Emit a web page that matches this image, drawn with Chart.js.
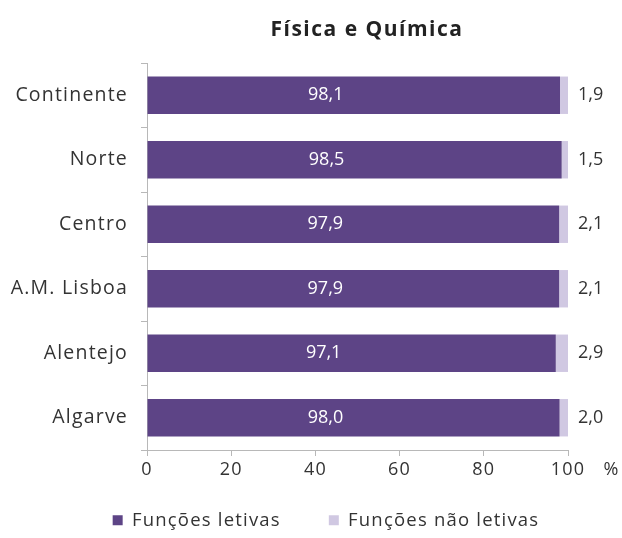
<!DOCTYPE html>
<html>
<head>
<meta charset="utf-8">
<script src="https://cdn.jsdelivr.net/npm/chart.js@4.4.1/dist/chart.umd.min.js"></script>
<style>
  html, body { margin: 0; padding: 0; background: #ffffff; }
  #wrap { width: 622px; height: 538px; position: relative; }
</style>
</head>
<body>
<div id="wrap"><canvas id="chart" width="622" height="538"></canvas></div>
<script>
// dados (%)
const regioes = ['Continente', 'Norte', 'Centro', 'A.M. Lisboa', 'Alentejo', 'Algarve'];
const letivas = [98.1, 98.5, 97.9, 97.9, 97.1, 98.0];
const naoLetivas = [1.9, 1.5, 2.1, 2.1, 2.9, 2.0];
const xTicks = [0, 20, 40, 60, 80, 100];

const FONT = '"Open Sans", Lato, sans-serif';
const COR_TEXTO = '#333333';
const COR_ESCURA = '#5d4486';
const COR_CLARA = '#d0c8e2';
const COR_EIXO = '#b8b8b8';

const fmt = v => v.toFixed(1).replace('.', ',');

// texto um pouco mais espaçado, como no original
const espacamento = {
    id: 'espacamento',
    beforeLayout(chart) { chart.ctx.letterSpacing = '1.2px'; },
    beforeDraw(chart) { chart.ctx.letterSpacing = '1.2px'; },
    afterLayout(chart) {
        // legenda: centrada sob o conjunto e mais abaixo
        const lg = chart.legend;
        lg.left += 42;
        lg.right += 42;
        lg.top = 463;
        lg.bottom = 538;
        lg.height = 75;
    }
};

// titulo, "%" e rotulos das barras
const extras = {
    id: 'extras',
    afterDatasetsDraw(chart) {
        const ctx = chart.ctx;
        ctx.save();
        ctx.letterSpacing = '1.5px';
        ctx.fillStyle = '#222222';
        ctx.font = 'bold 21px ' + FONT;
        ctx.textAlign = 'center';
        ctx.textBaseline = 'middle';
        ctx.fillText('Física e Química', 367, 30);

        // unidade no eixo x
        ctx.letterSpacing = '0px';
        ctx.fillStyle = COR_TEXTO;
        ctx.font = '18px ' + FONT;
        ctx.fillText('%', 611, 470);

        // valores dentro das barras escuras
        const m0 = chart.getDatasetMeta(0);
        ctx.fillStyle = '#ffffff';
        m0.data.forEach((bar, i) => {
            const cx = (bar.x + bar.base) / 2 - 28;
            ctx.fillText(fmt(letivas[i]), cx, bar.y);
        });

        // valores à direita
        const m1 = chart.getDatasetMeta(1);
        ctx.fillStyle = COR_TEXTO;
        ctx.textAlign = 'left';
        m1.data.forEach((bar, i) => {
            ctx.fillText(fmt(naoLetivas[i]), bar.x + 10, bar.y);
        });
        ctx.restore();
    }
};

new Chart(document.getElementById('chart'), {
    type: 'bar',
    data: {
        labels: regioes,
        datasets: [{
            label: 'Funções letivas',
            data: letivas,
            backgroundColor: COR_ESCURA,
            categoryPercentage: 1,
            barPercentage: 0.58
        }, {
            label: 'Funções não letivas',
            data: naoLetivas,
            backgroundColor: COR_CLARA,
            categoryPercentage: 1,
            barPercentage: 0.58
        }]
    },
    options: {
        indexAxis: 'y',
        responsive: false,
        animation: false,
        layout: { padding: { top: 63, right: 54, left: 0, bottom: 0 } },
        scales: {
            x: {
                stacked: true,
                min: 0,
                max: 100,
                afterBuildTicks: s => { s.ticks = xTicks.map(v => ({ value: v })); },
                afterFit: s => { s.height = 42; },
                border: { color: COR_EIXO },
                grid: { drawOnChartArea: false, tickLength: 6, color: COR_EIXO },
                ticks: { color: COR_TEXTO, font: { family: FONT, size: 18 }, padding: 3 }
            },
            y: {
                stacked: true,
                afterFit: s => { s.width = 147; },
                border: { color: COR_EIXO },
                grid: { drawOnChartArea: false, tickLength: 6, color: COR_EIXO, offset: true },
                ticks: { color: COR_TEXTO, font: { family: FONT, size: 19.5 }, padding: 13 }
            }
        },
        plugins: {
            title: { display: false },
            tooltip: { enabled: false },
            legend: {
                position: 'bottom',
                maxHeight: 46,
                labels: {
                    color: COR_TEXTO,
                    font: { family: FONT, size: 18.5 },
                    boxWidth: 10,
                    boxHeight: 10,
                    padding: 48
                }
            }
        }
    },
    plugins: [espacamento, extras]
});
</script>
</body>
</html>
